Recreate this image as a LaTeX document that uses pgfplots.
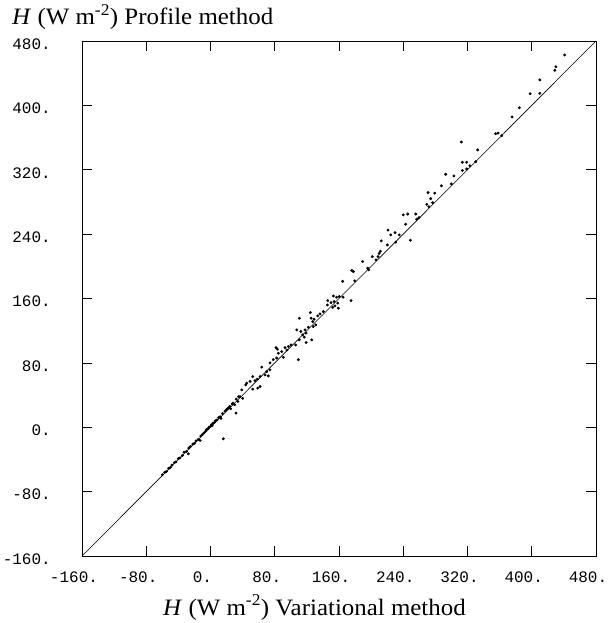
\documentclass[border=0pt]{standalone}
\usepackage{pgfplots}
\pgfplotsset{compat=1.18}
\usepackage{fontspec}
\setmainfont{Liberation Serif}
\setmonofont{Liberation Mono}
\newfontfamily\labfont[FakeStretch=1.06]{Liberation Serif}

\pgfplotstableread{
x y
-60 -59
-57 -56
-55 -55
-52 -51
-50 -50
-48 -47
-45 -44
-43 -43
-40 -39
-38 -38
-35 -35
-33 -31
-30 -30
-27.6 -33
-27 -26
-25 -24
-22 -21
-20 -20
-18 -17
-15 -15
-13 -16.5
-12 -11
-10 -9
-8 -7
-6 -5
-5 -3
-3 -2
-2 0
0 1
1 3
2 2
3 5
5 6
6 8
8 9
10 12
12 13
13 11
15 17
16 -14.4
18 20
20 22
22 24
24 26
25 23
27 29
28 30
30 28
31.8 17.5
32 35
34 32
35 38
36.8 38.1
40.1 36
38.9 46.4
43.9 52.7
45.1 54.9
49.2 56.9
52.6 63
52.6 47.3
55.4 58
58.3 59.7
58.8 48.6
61.7 63
61.7 50.6
63.8 74.7
68 65
70 69.2
72 63.8
74 71.3
74.1 80
78.2 84
82.4 86
81.6 99
83.2 97
84.5 92
88.7 94
90.7 87
92.8 99
95 96
97 100.3
100.3 102.3
106 102.3
107.4 121
110.6 108.6
109.4 84
110.6 135.5
112.4 119
114.8 114.8
116.8 112
117.7 121
119 117
119 105.3
121.8 124.3
124.3 142.5
125.2 135.5
126 108.6
127.3 131.3
128 125
129 134.3
131 127.2
133.5 138.4
136.4 140.8
140.5 143.7
145.5 152
146 157.4
150 154.9
152.2 149
153 163.2
154 156.2
155 150.8
157 161.6
158.4 154.2
159.2 148
160.4 162.4
165 161.6
164.6 181.4
175 157.4
175.9 195
177.9 193.4
179.6 182
189.4 206
195.8 197.6
197 195.5
201.5 212
206 208
208.6 212
210 216
211.5 218.8
212.7 231.6
220.2 226.6
221 245
224.4 239
229.8 241.8
230.6 230
235 239
240 264
243 252.3
245.6 265
248.8 232.4
255.6 265
256.8 258.5
259.7 260.5
269.3 277
270.9 291.6
272 274
274.2 284
276.7 279
279.2 291
287.5 300
292.9 314.4
299.9 302.4
303 312.3
312.4 354.5
313.6 329.3
313.6 319
319 329.3
319 321
323 325
330.3 330
332.7 344.6
355 364.8
358 365.6
362.6 362.4
375.5 385.6
384.6 397
398 414.5
410 415
410 431.6
428.7 443.6
430 448
441 462.6
}\pts

\begin{document}
\begin{tikzpicture}
\begin{axis}[
  scale only axis,
  width=514pt, height=515pt,
  xmin=-160, xmax=480, ymin=-160, ymax=480,
  axis line style={black, line width=0.8pt},
  xtick={-160,-80,...,480}, ytick={-160,-80,...,480},
  xticklabels={-160.,-80.,0.,80.,160.,240.,320.,400.,480.},
  yticklabels={-160.,-80.,0.,80.,160.,240.,320.,400.,480.},
  tick align=inside,
  xtick pos=both, ytick pos=both,
  major tick length=10pt,
  tick style={black, line width=0.7pt},
  xticklabel style={font=\fontsize{16}{16}\selectfont\ttfamily, anchor=center, xshift=-8pt, yshift=-21pt, inner sep=0pt},
  yticklabel style={font=\fontsize{16}{16}\selectfont\ttfamily, anchor=east, xshift=-31pt, yshift=-3pt, inner sep=0pt},
  clip=true,
]
\addplot[black, line width=0.6pt] coordinates {(-160,-160) (480,480)};
\addplot[only marks, mark=*, mark size=1.25pt, black] table[x=x, y=y] {\pts};
\coordinate (SW) at (rel axis cs:0,0);
\coordinate (NE) at (rel axis cs:1,1);
\end{axis}
\node[anchor=base west, inner sep=0pt, font=\fontsize{23.5}{28}\labfont] at ([xshift=-70pt, yshift=16pt]SW |- NE) {\textit{H} (W m\textsuperscript{-2}) Profile method};
\node[anchor=base west, inner sep=0pt, font=\fontsize{23.5}{28}\labfont] at ([xshift=81pt, yshift=-59pt]SW) {\textit{H} (W m\textsuperscript{-2}) Variational method};
\pgfresetboundingbox
\path[use as bounding box] ([xshift=-82pt, yshift=-67pt]SW) rectangle ([xshift=12pt, yshift=41pt]NE);
\end{tikzpicture}
\end{document}
